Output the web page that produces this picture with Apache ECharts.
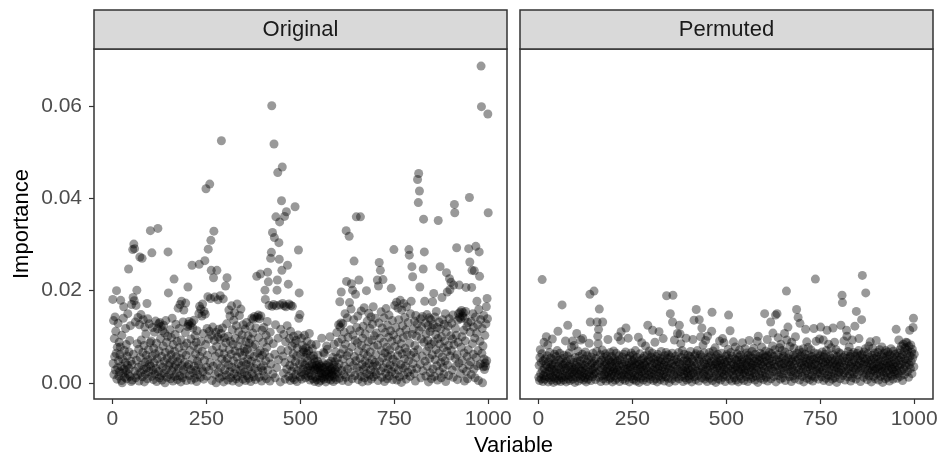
<!DOCTYPE html>
<html>
<head>
<meta charset="UTF-8">
<title>Importance: Original vs Permuted</title>
<script type="text/javascript" src="https://cdn.jsdelivr.net/npm/echarts@6/dist/echarts.min.js"></script>
<style>
  body { margin: 0; background: #fff; }
</style>
</head>
<body>
<div id="main" style="width: 944px; height: 471px;"></div>
<script type="text/javascript">
// importance per variable (1..1000), in units of 1e-4
var originalVals = [
  181,42,135,18,96,57,143,28,112,64,200,8,77,33,129,48,15,88,24,61,78,179,36,5,103,
  0,52,21,140,165,30,70,12,44,118,26,83,9,58,38,150,19,247,67,31,92,14,124,47,3,
  170,40,6,289,185,62,301,178,291,25,132,11,168,49,201,85,17,142,34,73,4,126,273,55,22,
  148,93,38,270,13,66,137,29,81,2,121,45,19,106,60,32,172,9,139,50,72,24,128,41,87,
  330,36,91,14,282,58,120,27,7,75,44,110,19,63,134,31,86,3,52,117,335,24,128,69,11,
  131,40,96,16,122,57,6,113,34,80,125,21,47,108,0,66,135,29,88,12,54,101,284,195,37,
  18,72,43,115,9,61,98,26,140,50,4,83,33,225,68,14,105,39,127,57,21,90,7,46,162,
  31,76,118,15,170,53,2,93,177,37,64,11,132,28,158,80,45,19,109,173,60,5,86,35,122,
  208,127,40,133,16,70,124,29,95,6,130,255,52,119,22,81,136,36,10,102,63,27,88,3,113,
  47,18,74,39,150,257,166,57,12,160,90,31,145,68,171,24,107,8,155,49,265,149,83,421,34,
  15,118,60,187,290,95,27,112,431,44,183,309,244,103,5,71,121,36,228,329,92,186,18,58,110,
  0,79,244,41,99,180,23,116,65,10,94,189,33,107,525,52,14,119,76,182,2,63,98,28,45,
  210,87,17,128,228,53,6,101,39,158,72,24,145,90,11,62,167,34,115,4,84,48,136,20,152,
  69,97,30,9,124,56,171,14,80,42,111,1,146,66,27,93,160,37,19,104,59,8,126,45,75,
  23,68,117,5,89,40,131,16,73,51,102,29,10,86,61,123,35,3,95,47,140,20,78,108,138,
  13,57,144,31,83,7,119,42,231,142,65,25,147,98,12,139,54,70,236,145,33,4,114,60,26,
  88,37,120,15,66,201,181,48,103,9,77,133,240,28,219,92,168,55,4,110,270,41,283,601,166,
  326,19,85,170,518,315,62,11,126,360,167,33,201,223,456,97,50,304,268,349,169,2,116,71,395,
  244,468,172,58,21,105,167,361,44,8,89,165,371,30,124,255,70,214,14,171,96,38,5,112,168,
  52,25,80,166,11,63,101,34,7,86,382,46,18,92,58,3,75,27,104,288,140,195,41,148,13,
  62,23,97,8,44,81,30,72,67,18,103,39,55,11,76,26,64,90,48,33,14,69,21,107,37,
  6,58,28,84,16,41,74,9,35,59,52,27,3,45,31,12,83,38,7,29,47,60,33,1,22,
  40,15,28,5,36,21,97,11,32,44,19,66,8,63,34,14,24,2,39,80,18,73,27,9,42,
  22,35,13,100,29,6,47,20,31,16,55,25,3,38,84,12,46,28,67,19,7,109,34,54,23,
  88,126,41,10,176,121,63,130,197,27,95,5,128,52,73,18,110,36,150,84,12,330,220,59,141,
  30,99,3,66,318,174,45,115,22,160,215,78,9,201,104,38,137,264,57,16,92,192,48,360,120,
  33,87,145,7,69,223,25,112,53,360,14,156,81,40,2,97,123,29,64,163,11,47,106,35,75,
  200,20,134,58,4,89,151,42,17,118,67,28,143,8,93,50,127,36,165,13,79,102,44,24,140,
  61,18,108,37,223,82,5,210,130,261,46,97,244,26,154,70,12,119,54,224,33,88,141,3,65,
  109,21,161,43,77,9,125,57,30,99,147,15,72,39,113,60,205,24,90,135,7,51,104,289,34,
  168,79,19,120,45,175,6,94,59,162,28,137,71,13,110,179,40,85,1,158,63,124,32,98,172,
  17,52,142,75,36,115,8,165,67,103,23,131,48,289,277,86,14,150,60,177,29,252,105,230,42,
  117,66,20,134,81,4,146,55,101,31,128,441,72,391,454,113,416,208,40,139,11,95,121,58,144,
  26,247,355,88,284,177,47,130,15,106,69,148,36,92,124,2,78,141,53,111,22,137,84,9,119,
  61,176,30,126,194,89,14,143,50,105,72,155,37,120,6,96,352,64,132,25,84,252,117,44,11,
  100,185,56,137,33,76,19,127,91,48,150,3,110,239,68,197,39,123,81,16,139,226,202,58,102,
  218,70,129,28,95,147,12,212,83,387,369,54,118,36,103,293,61,7,136,88,150,43,212,142,153,
  20,139,77,157,100,48,145,31,152,114,65,4,140,91,155,207,25,122,57,9,131,72,291,38,402,
  262,110,46,133,18,207,244,85,150,62,121,30,243,97,11,143,296,55,108,177,37,126,70,5,159,
  284,231,90,41,137,687,599,64,118,0,80,35,146,52,29,103,43,36,128,165,48,183,139,583,369
];

var permutedVals = [
  12,38,5,55,72,20,44,9,63,224,27,3,48,16,88,31,8,52,22,40,100,14,59,35,82,
  2,46,25,11,66,33,18,54,6,41,29,95,13,37,1,50,24,62,10,43,19,57,30,4,70,
  21,112,36,7,49,15,64,28,3,45,33,11,169,53,19,39,6,60,26,42,14,91,31,2,47,
  22,58,125,9,36,17,65,40,5,28,51,13,78,34,23,91,8,44,19,81,30,1,55,26,38,
  12,107,46,20,69,4,35,57,17,29,48,9,93,25,41,14,62,96,32,6,52,21,38,11,67,
  27,2,45,18,59,34,8,50,23,86,15,192,132,39,5,56,28,43,13,64,31,19,199,47,24,
  36,7,53,21,68,132,40,101,85,116,12,160,44,26,61,3,33,49,16,71,132,29,9,55,37,
  18,46,63,24,4,41,58,14,32,94,22,50,8,39,27,66,11,45,19,57,35,2,48,25,69,
  30,15,52,6,43,23,64,34,10,47,28,100,18,59,38,3,50,26,92,111,13,41,21,56,8,
  36,62,17,45,29,5,67,119,24,39,12,53,31,97,19,44,2,58,27,35,14,65,40,9,48,
  22,60,33,7,51,16,42,70,25,4,37,55,13,46,29,99,19,1,40,63,31,10,49,24,87,
  36,15,53,6,43,27,58,20,38,80,11,45,32,3,61,125,26,50,17,69,34,8,47,22,56,
  14,39,65,114,28,5,52,19,43,88,33,9,57,24,41,2,62,30,48,15,111,36,21,54,7,
  45,68,26,12,50,34,96,18,39,4,59,29,46,13,66,189,23,53,37,10,61,31,1,44,20,
  150,56,27,42,8,64,132,190,35,17,49,93,25,4,58,38,12,51,30,107,20,45,66,9,125,
  41,106,24,85,55,14,36,70,28,3,47,19,62,33,11,53,26,97,40,6,48,22,60,31,15,
  44,9,57,27,68,18,38,2,51,32,94,21,46,136,13,59,35,7,63,159,25,42,70,16,53,
  29,4,137,48,23,61,100,37,11,119,56,30,82,19,45,65,8,40,26,92,14,50,34,3,101,
  28,55,17,43,66,10,36,59,22,47,112,153,5,39,69,31,13,52,25,76,41,1,58,20,45,
  33,62,9,37,54,16,91,27,48,6,42,64,23,35,96,12,50,30,87,18,44,3,57,26,39,
  61,14,47,32,73,147,21,53,8,113,38,66,25,45,4,58,30,17,89,40,11,52,27,78,35,
  6,49,20,63,33,44,2,56,24,71,15,41,60,29,9,50,36,87,19,46,31,5,55,22,74,
  28,42,13,65,37,51,3,60,24,46,92,17,34,58,9,43,26,68,39,12,54,31,75,21,47,
  6,62,36,15,52,28,90,44,1,101,33,57,19,48,64,10,40,25,78,53,16,37,61,7,45,
  30,150,56,22,69,12,48,35,94,4,59,27,43,66,18,52,38,132,9,63,31,47,80,108,25,
  57,14,41,72,34,147,2,50,23,150,61,37,98,16,55,45,76,28,8,84,40,20,53,70,33,
  11,58,42,26,107,67,5,49,36,199,93,19,54,121,30,44,62,13,79,38,24,51,3,88,33,
  46,15,60,27,75,40,9,56,100,21,48,159,64,34,17,142,52,29,71,6,129,43,58,23,37,
  66,14,47,31,74,2,55,39,20,62,116,45,26,89,10,53,35,77,18,42,60,7,49,29,72,
  37,15,57,33,4,51,24,118,65,41,12,225,46,90,28,54,19,38,63,8,48,30,95,22,59,
  121,34,50,13,67,27,44,93,5,56,38,21,62,45,10,70,31,114,52,17,41,84,24,3,58,
  36,47,15,76,29,53,8,42,119,61,20,35,88,11,49,26,72,39,1,57,32,45,18,66,23,
  50,37,9,63,125,28,44,190,174,16,55,34,91,22,47,6,60,39,26,114,101,53,13,68,31,
  45,78,19,57,36,4,62,42,24,93,11,50,33,66,20,46,123,58,29,8,155,38,64,17,52,
  35,70,96,43,25,59,3,48,32,137,61,233,21,54,40,12,67,30,46,74,195,18,51,37,7,
  63,27,44,80,15,56,33,89,22,49,2,41,60,28,75,36,14,53,26,65,9,45,31,92,57,
  19,42,66,30,6,51,37,72,23,47,14,60,34,78,25,1,55,40,17,64,31,48,9,70,36,
  22,58,43,12,67,27,52,38,4,61,20,45,74,33,15,56,29,41,8,69,24,50,35,62,18,
  44,116,27,57,10,38,65,21,93,49,33,72,14,55,40,80,26,61,5,47,84,30,68,18,52,
  76,36,88,43,63,87,24,70,50,12,79,39,114,58,31,82,46,66,20,73,54,120,140,35,62
];

var panels = ['Original', 'Permuted'];
var xTicks = [0, 250, 500, 750, 1000];
var yTicks = [0, 0.02, 0.04, 0.06];

var font = "'Liberation Sans', Arial, Helvetica, sans-serif";

function toPoints(vals) {
  return vals.map(function (v, i) { return [i + 1, v / 10000]; });
}

var grids = [
  { left: 94, top: 49, width: 413, height: 350 },
  { left: 520, top: 49, width: 413, height: 350 }
];

var myChart = echarts.init(document.getElementById('main'));

var xAxes = [], yAxes = [], graphics = [];
grids.forEach(function (g, k) {
  g.show = true;
  g.borderColor = '#333';
  g.borderWidth = 1.5;
  g.containLabel = false;
  xAxes.push({
    type: 'value', gridIndex: k, min: -49, max: 1050, position: 'bottom',
    axisLine: { show: false, onZero: false },
    splitLine: { show: false },
    axisTick: { show: true, length: 5, customValues: xTicks, lineStyle: { color: '#333', width: 1.2 } },
    axisLabel: {
      customValues: xTicks, color: '#4d4d4d', fontSize: 21, margin: 10, fontFamily: font,
      formatter: function (v) { return String(v); }
    }
  });
  yAxes.push({
    type: 'value', gridIndex: k, min: -0.0035, max: 0.0724, position: 'left',
    axisLine: { show: false, onZero: false },
    splitLine: { show: false },
    axisTick: { show: k === 0, length: 5, customValues: yTicks, lineStyle: { color: '#333', width: 1.2 } },
    axisLabel: {
      show: k === 0, customValues: yTicks, color: '#4d4d4d', fontSize: 21, margin: 12, fontFamily: font,
      formatter: function (v) { return v.toFixed(2); }
    }
  });
  // facet strip
  graphics.push({
    type: 'rect',
    shape: { x: g.left, y: 10, width: g.width, height: 39 },
    style: { fill: '#d9d9d9', stroke: '#333', lineWidth: 1.5 }
  });
  graphics.push({
    type: 'text',
    x: g.left + g.width / 2, y: 30,
    style: { text: panels[k], fill: '#1a1a1a', font: '22px ' + font, textAlign: 'center', textVerticalAlign: 'middle' }
  });
});

graphics.push({
  type: 'text', x: 513.5, y: 446,
  style: { text: 'Variable', fill: '#000', font: '22px ' + font, textAlign: 'center', textVerticalAlign: 'middle' }
});
graphics.push({
  type: 'text', x: 22, y: 224, rotation: Math.PI / 2,
  style: { text: 'Importance', fill: '#000', font: '22px ' + font, textAlign: 'center', textVerticalAlign: 'middle' }
});

myChart.setOption({
  animation: false,
  backgroundColor: '#fff',
  grid: grids,
  xAxis: xAxes,
  yAxis: yAxes,
  graphic: graphics,
  series: [
    {
      name: panels[0], type: 'scatter', xAxisIndex: 0, yAxisIndex: 0,
      symbolSize: 9, itemStyle: { color: 'rgba(0,0,0,0.5)' },
      data: toPoints(originalVals)
    },
    {
      name: panels[1], type: 'scatter', xAxisIndex: 1, yAxisIndex: 1,
      symbolSize: 9, itemStyle: { color: 'rgba(0,0,0,0.5)' },
      data: toPoints(permutedVals)
    }
  ]
});
</script>
</body>
</html>
